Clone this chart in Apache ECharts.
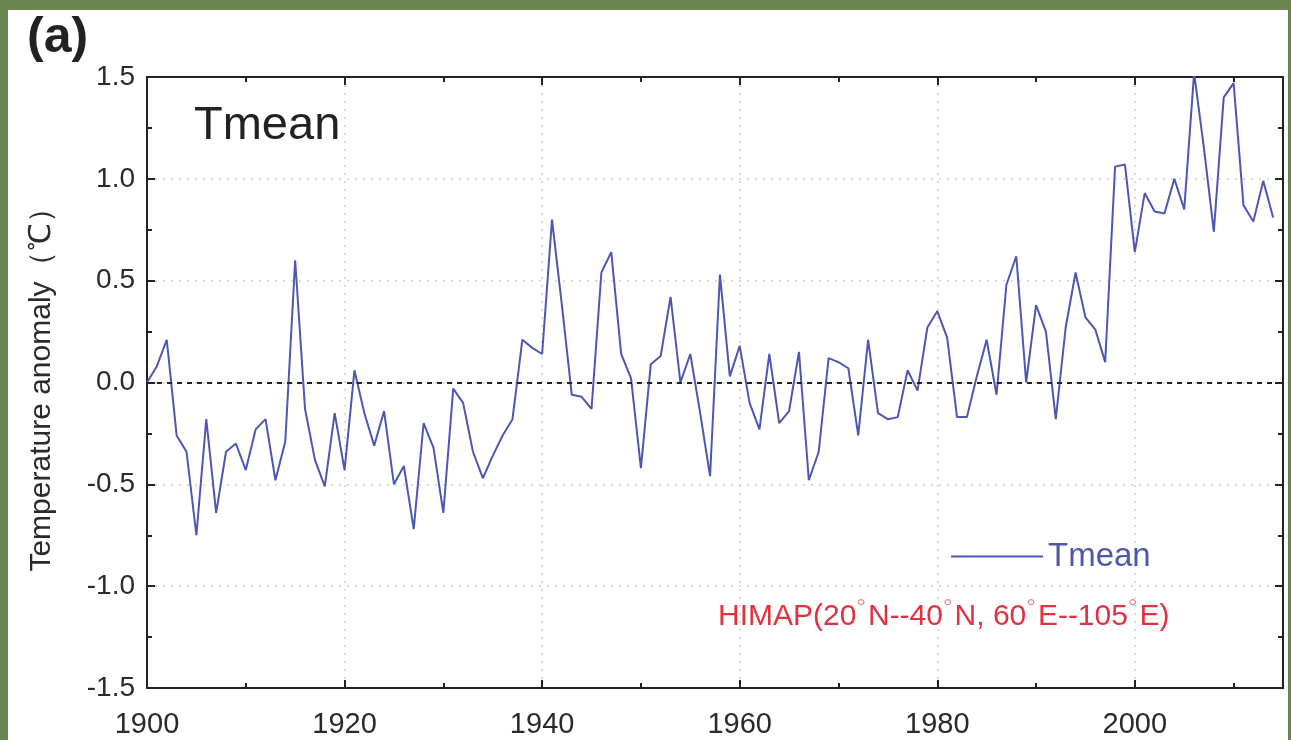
<!DOCTYPE html>
<html>
<head>
<meta charset="utf-8">
<script src="https://cdn.jsdelivr.net/npm/echarts@6/dist/echarts.min.js"></script>
<style>
html,body{margin:0;padding:0;background:#fff;}
#chart{width:1291px;height:740px;}
</style>
</head>
<body>
<div id="chart"></div>
<script>
// ---- data ----
const years = [];
for (let y = 1900; y <= 2014; y++) years.push(y);
const tmean = [
  0.00, 0.08, 0.21, -0.26, -0.34, -0.75, -0.18, -0.64, -0.34, -0.30,
  -0.43, -0.23, -0.18, -0.48, -0.29, 0.60, -0.13, -0.38, -0.51, -0.15,
  -0.43, 0.06, -0.15, -0.31, -0.14, -0.50, -0.41, -0.72, -0.20, -0.32,
  -0.64, -0.03, -0.10, -0.34, -0.47, -0.36, -0.26, -0.18, 0.21, 0.17,
  0.14, 0.80, 0.38, -0.06, -0.07, -0.13, 0.54, 0.64, 0.14, 0.02,
  -0.42, 0.09, 0.13, 0.42, 0.00, 0.14, -0.15, -0.46, 0.53, 0.03,
  0.18, -0.10, -0.23, 0.14, -0.20, -0.14, 0.15, -0.48, -0.34, 0.12,
  0.10, 0.07, -0.26, 0.21, -0.15, -0.18, -0.17, 0.06, -0.04, 0.27,
  0.35, 0.22, -0.17, -0.17, 0.03, 0.21, -0.06, 0.48, 0.62, 0.00,
  0.38, 0.25, -0.18, 0.27, 0.54, 0.32, 0.26, 0.10, 1.06, 1.07,
  0.64, 0.93, 0.84, 0.83, 1.00, 0.85, 1.52, 1.15, 0.74, 1.40,
  1.47, 0.87, 0.79, 0.99, 0.81
];
const xTickLabels = ['1900', '1920', '1940', '1960', '1980', '2000'];
const yTickLabels = ['-1.5', '-1.0', '-0.5', '0.0', '0.5', '1.0', '1.5'];
const seriesName = 'Tmean';
const panelLabel = '(a)';

const FONT = '"Liberation Sans", Arial, sans-serif';
const LINE_BLUE = '#4d57b3';
const GREEN = '#6b8751';

const chart = echarts.init(document.getElementById('chart'), null, {renderer: 'canvas'});

const xMin = 1900, xMax = 2015, yMin = -1.5, yMax = 1.5;

function mkX(pos, showLabel) {
  return {
    type: 'value', position: pos, min: xMin, max: xMax, interval: 20,
    axisLine: {show: true, onZero: false, lineStyle: {color: '#222', width: 2}},
    axisTick: {show: true, inside: true, length: 8, lineStyle: {color: '#222', width: 2}},
    minorTick: {show: true, splitNumber: 2, length: 5, lineStyle: {color: '#222', width: 2}},
    axisLabel: {
      show: showLabel, margin: 22, fontSize: 29, color: '#2a2a2a', fontFamily: FONT,
      showMaxLabel: false,
      formatter: v => xTickLabels.indexOf(String(Math.round(v))) >= 0 ? String(Math.round(v)) : ''
    },
    splitLine: {show: showLabel, lineStyle: {color: '#d0d0d0', type: [2, 6], width: 1.5}},
    minorSplitLine: {show: false}
  };
}
function mkY(pos, showLabel) {
  return {
    type: 'value', position: pos, min: yMin, max: yMax, interval: 0.5,
    name: showLabel ? 'Temperature anomaly（℃）' : '',
    nameLocation: 'middle', nameGap: 90, nameRotate: 90,
    nameTextStyle: {fontSize: 30, color: '#2a2a2a', fontFamily: FONT},
    axisLine: {show: true, onZero: false, lineStyle: {color: '#222', width: 2}},
    axisTick: {show: true, inside: true, length: 8, lineStyle: {color: '#222', width: 2}},
    minorTick: {show: true, splitNumber: 2, length: 5, lineStyle: {color: '#222', width: 2}},
    axisLabel: {
      show: showLabel, margin: 12, fontSize: 28, color: '#2a2a2a', fontFamily: FONT,
      formatter: v => {
        const s = v.toFixed(1);
        return yTickLabels.indexOf(s) >= 0 ? s : '';
      }
    },
    splitLine: {show: showLabel, lineStyle: {color: '#d0d0d0', type: [2, 6], width: 1.5}}
  };
}

const option = {
  backgroundColor: '#ffffff',
  animation: false,
  grid: {left: 147, right: 8, top: 77, bottom: 52, containLabel: false},
  xAxis: [mkX('bottom', true), mkX('top', false)],
  yAxis: [mkY('left', true), mkY('right', false)],
  legend: {
    show: true, data: [seriesName], left: 946, top: 535,
    icon: 'rect', itemWidth: 92, itemHeight: 2, itemGap: 8,
    textStyle: {fontSize: 33, color: '#4f58a8', fontFamily: FONT}
  },
  series: [{
    name: seriesName, type: 'line', xAxisIndex: 0, yAxisIndex: 0,
    data: years.map((y, i) => [y, tmean[i]]),
    showSymbol: false, symbol: 'none',
    lineStyle: {color: LINE_BLUE, width: 2},
    itemStyle: {color: LINE_BLUE},
    clip: true,
    markLine: {
      silent: true, symbol: ['none', 'none'], label: {show: false},
      lineStyle: {color: '#222', type: [5, 5], width: 2},
      data: [{yAxis: 0}]
    }
  }],
  graphic: [
    {type: 'rect', left: 0, top: 0, shape: {width: 1291, height: 10}, style: {fill: GREEN}, z: 100},
    {type: 'rect', left: 0, top: 0, shape: {width: 8, height: 740}, style: {fill: GREEN}, z: 100},
    {type: 'rect', left: 1288, top: 0, shape: {width: 3, height: 740}, style: {fill: GREEN}, z: 100},
    {type: 'text', left: 27, top: 13, style: {text: panelLabel, fontSize: 50, fontWeight: 'bold', fill: '#222', fontFamily: FONT}, z: 50},
    {type: 'text', left: 194, top: 103, style: {text: seriesName, fontSize: 47, fill: '#222', fontFamily: FONT}, z: 50},
    {type: 'text', left: 718, top: 596, z: 50, style: {
      text: '{r|HIMAP(20}{d|°}{r|N--40}{d|°}{r|N, 60}{d|°}{r|E--105}{d|°}{r|E)}',
      rich: {
        r: {fontSize: 30, fill: '#e0323f', fontFamily: FONT, verticalAlign: 'bottom', lineHeight: 36},
        d: {fontSize: 24, fill: '#e88a94', fontFamily: FONT, verticalAlign: 'top', lineHeight: 36, padding: [0, 2, 16, 0]}
      }
    }}
  ]
};
chart.setOption(option);
</script>
</body>
</html>
